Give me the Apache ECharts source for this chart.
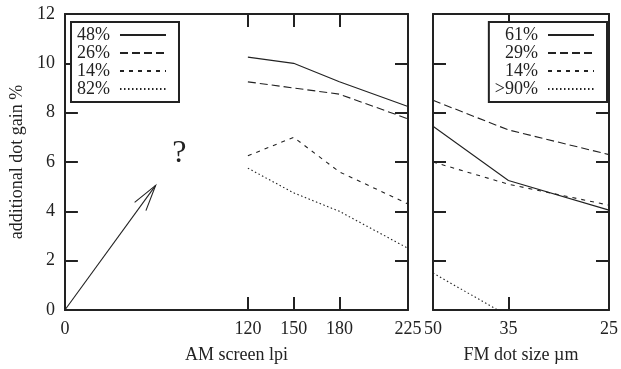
<!DOCTYPE html>
<html>
<head>
<meta charset="utf-8">
<script src="https://cdn.jsdelivr.net/npm/echarts@6/dist/echarts.min.js"></script>
<style>
  html, body { margin: 0; padding: 0; background: #fff; }
  #chart { width: 621px; height: 369px; }
</style>
</head>
<body>
<div id="chart"></div>
<script>
// AM screen (left panel)
var amLpi = [120, 150, 180, 225];
var amNames = ['48%', '26%', '14%', '82%'];
var am48 = [10.25, 10.0, 9.25, 8.25];
var am26 = [9.25, 9.0, 8.75, 7.75];
var am14 = [6.25, 7.0, 5.6, 4.3];
var am82 = [5.75, 4.75, 4.0, 2.5];
var amTicks = [0, 120, 150, 180, 225];
var amTopTicks = [120, 150, 180];

// FM screen (right panel), x drawn as 1000/size
var fmSize = [50, 35, 25];
var fmNames = ['61%', '29%', '14%', '>90%'];
var fm61 = [7.45, 5.25, 4.05];
var fm29 = [8.5, 7.3, 6.3];
var fm14 = [6.0, 5.1, 4.25];
var fm90 = [1.5, -0.25, -1.5];
var fmTopTicks = [35];

// annotation: arrow from origin and question mark
var arrowLine = [[0, 0, 59.5, 5.05]];
var questionMark = [[75, 6.35]];

var ink = '#222';
var font = 'Liberation Serif';
var dashes = ['solid', [8, 4], [4, 5], [1.5, 2.5]];

function inv(s) { return 1000 / s; }

function zip(xs, ys, fx) {
    return xs.map(function(x, i) { return [fx ? fx(x) : x, ys[i]]; });
}

function lineSeries(name, data, dash, xi, yi) {
    return {
        name: name,
        type: 'line',
        xAxisIndex: xi,
        yAxisIndex: yi,
        data: data,
        symbol: 'none',
        silent: true,
        animation: false,
        lineStyle: { color: ink, width: 1.1, type: dash },
        itemStyle: { color: ink }
    };
}

var axisLine = { show: true, onZero: false, lineStyle: { color: ink, width: 2 } };
var axisTick = { show: true, inside: true, length: 13, lineStyle: { color: ink, width: 2 } };
var labelStyle = { color: ink, fontFamily: font, fontSize: 18 };

var chart = echarts.init(document.getElementById('chart'));

var series = [
    lineSeries(amNames[0], zip(amLpi, am48), dashes[0], 0, 0),
    lineSeries(amNames[1], zip(amLpi, am26), dashes[1], 0, 0),
    lineSeries(amNames[2], zip(amLpi, am14), dashes[2], 0, 0),
    lineSeries(amNames[3], zip(amLpi, am82), dashes[3], 0, 0),
    lineSeries(fmNames[0], zip(fmSize, fm61, inv), dashes[0], 2, 2),
    lineSeries(fmNames[1], zip(fmSize, fm29, inv), dashes[1], 2, 2),
    lineSeries(fmNames[2], zip(fmSize, fm14, inv), dashes[2], 2, 2),
    lineSeries(fmNames[3], zip(fmSize, fm90, inv), dashes[3], 2, 2),
    {
        type: 'custom',
        xAxisIndex: 0,
        yAxisIndex: 0,
        silent: true,
        clip: false,
        data: arrowLine,
        renderItem: function(params, api) {
            var p0 = api.coord([api.value(0), api.value(1)]);
            var p1 = api.coord([api.value(2), api.value(3)]);
            var ang = Math.atan2(p0[1] - p1[1], p0[0] - p1[0]);
            var len = 27, spread = 15 * Math.PI / 180;
            var w1 = [p1[0] + len * Math.cos(ang - spread), p1[1] + len * Math.sin(ang - spread)];
            var w2 = [p1[0] + len * Math.cos(ang + spread), p1[1] + len * Math.sin(ang + spread)];
            var st = { stroke: ink, lineWidth: 1.1, fill: null };
            return {
                type: 'group',
                children: [
                    { type: 'polyline', shape: { points: [p0, p1] }, style: st },
                    { type: 'polyline', shape: { points: [w1, p1, w2] }, style: st }
                ]
            };
        }
    },
    {
        type: 'custom',
        xAxisIndex: 0,
        yAxisIndex: 0,
        silent: true,
        clip: false,
        data: questionMark,
        renderItem: function(params, api) {
            var p = api.coord([api.value(0), api.value(1)]);
            return {
                type: 'text',
                x: p[0],
                y: p[1],
                style: {
                    text: '?',
                    fill: ink,
                    font: '32px "Liberation Serif"',
                    align: 'center',
                    verticalAlign: 'middle'
                }
            };
        }
    }
];

var legendBase = {
    orient: 'vertical',
    align: 'right',
    itemWidth: 46,
    itemHeight: 14,
    itemGap: 0,
    padding: [4, 12, 4, 6],
    borderColor: ink,
    borderWidth: 2,
    backgroundColor: '#fff',
    selectedMode: false,
    // hide the marker dot, keep only the line sample
    itemStyle: { color: 'rgba(0,0,0,0)', borderWidth: 0 },
    textStyle: { color: ink, fontFamily: font, fontSize: 18, lineHeight: 18, padding: [0, 5, 0, 0] }
};

var option = {
    animation: false,
    backgroundColor: '#fff',
    textStyle: { fontFamily: font },
    grid: [
        { left: 61, top: 14, width: 347, height: 296 },
        { left: 433, top: 14, width: 182, height: 296 }
    ],
    legend: [
        Object.assign({}, legendBase, { data: amNames, left: 71, top: 22 }),
        Object.assign({}, legendBase, { data: fmNames, right: 14, top: 22 })
    ],
    xAxis: [
        {
            type: 'value', gridIndex: 0, position: 'bottom', min: 0, max: 225,
            name: 'AM screen lpi', nameLocation: 'middle', nameGap: 36,
            nameTextStyle: { color: ink, fontFamily: font, fontSize: 18 },
            axisLine: axisLine, splitLine: { show: false },
            axisTick: Object.assign({}, axisTick, { customValues: amTicks }),
            axisLabel: Object.assign({}, labelStyle, { customValues: amTicks, margin: 10 })
        },
        {
            type: 'value', gridIndex: 0, position: 'top', min: 0, max: 225,
            axisLine: axisLine, splitLine: { show: false },
            axisTick: Object.assign({}, axisTick, { customValues: amTopTicks }),
            axisLabel: { show: false }
        },
        {
            type: 'value', gridIndex: 1, position: 'bottom', min: inv(50), max: inv(25),
            name: 'FM dot size µm', nameLocation: 'middle', nameGap: 36,
            nameTextStyle: { color: ink, fontFamily: font, fontSize: 18 },
            axisLine: axisLine, splitLine: { show: false },
            axisTick: Object.assign({}, axisTick, { customValues: fmSize.map(inv) }),
            axisLabel: Object.assign({}, labelStyle, {
                customValues: fmSize.map(inv), margin: 10,
                formatter: function(v) { return Math.round(1000 / v); }
            })
        },
        {
            type: 'value', gridIndex: 1, position: 'top', min: inv(50), max: inv(25),
            axisLine: axisLine, splitLine: { show: false },
            axisTick: Object.assign({}, axisTick, { customValues: fmTopTicks.map(inv) }),
            axisLabel: { show: false }
        }
    ],
    yAxis: [
        {
            type: 'value', gridIndex: 0, position: 'left', min: 0, max: 12, interval: 2,
            name: 'additional dot gain %', nameLocation: 'middle', nameGap: 36,
            nameTextStyle: { color: ink, fontFamily: font, fontSize: 18 },
            axisLine: axisLine, axisTick: axisTick, splitLine: { show: false },
            axisLabel: Object.assign({}, labelStyle, { margin: 10 })
        },
        {
            type: 'value', gridIndex: 0, position: 'right', min: 0, max: 12, interval: 2,
            axisLine: axisLine, axisTick: axisTick, splitLine: { show: false },
            axisLabel: { show: false }
        },
        {
            type: 'value', gridIndex: 1, position: 'left', min: 0, max: 12, interval: 2,
            axisLine: axisLine, axisTick: axisTick, splitLine: { show: false },
            axisLabel: { show: false }
        },
        {
            type: 'value', gridIndex: 1, position: 'right', min: 0, max: 12, interval: 2,
            axisLine: axisLine, axisTick: axisTick, splitLine: { show: false },
            axisLabel: { show: false }
        }
    ],
    series: series
};

chart.setOption(option);
</script>
</body>
</html>
